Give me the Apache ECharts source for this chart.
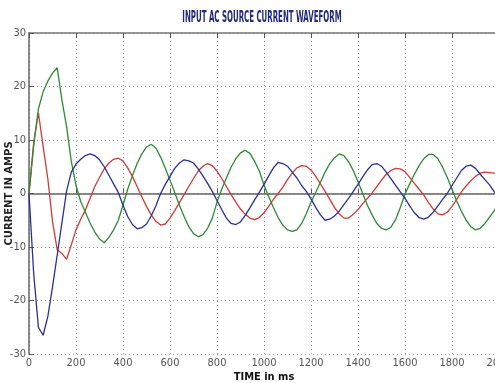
<!DOCTYPE html>
<html>
<head>
<meta charset="utf-8">
<script src="https://cdn.jsdelivr.net/npm/echarts@6/dist/echarts.min.js"></script>
<style>
  html, body { margin: 0; padding: 0; background: #fff; }
  #chart { width: 495px; height: 383px; }
</style>
</head>
<body>
<div id="chart"></div>
<script>
  // time axis (ms), sampled every 20 ms
  var timeMs = [0, 20, 40, 60, 80, 100, 120, 140, 160, 180, 200, 220, 240, 260, 280, 300, 320, 340, 360, 380,
    400, 420, 440, 460, 480, 500, 520, 540, 560, 580, 600, 620, 640, 660, 680, 700, 720, 740, 760, 780,
    800, 820, 840, 860, 880, 900, 920, 940, 960, 980, 1000, 1020, 1040, 1060, 1080, 1100, 1120, 1140, 1160, 1180,
    1200, 1220, 1240, 1260, 1280, 1300, 1320, 1340, 1360, 1380, 1400, 1420, 1440, 1460, 1480, 1500, 1520, 1540, 1560, 1580,
    1600, 1620, 1640, 1660, 1680, 1700, 1720, 1740, 1760, 1780, 1800, 1820, 1840, 1860, 1880, 1900, 1920, 1940, 1960, 1980, 2000];

  // phase currents (A)
  var redPhase = [0, 9.5, 15.1, 8.8, 2.8, -5.2, -10.5, -11.2, -12.3, -9.6, -6.8, -4.8, -3.1, -0.9, 1.3, 3.0, 4.6, 5.7, 6.4, 6.6,
    6.1, 4.8, 3.2, 1.3, -0.6, -2.4, -4.0, -5.2, -5.9, -5.7, -4.6, -3.2, -1.7, -0.2, 1.3, 2.8, 4.2, 5.1, 5.6, 5.2,
    4.2, 2.8, 1.3, -0.2, -1.6, -2.9, -3.9, -4.6, -4.9, -4.5, -3.6, -2.4, -1.1, 0, 1.2, 2.6, 3.8, 4.8, 5.2, 5.1,
    4.4, 3.2, 1.8, 0.4, -1.1, -2.6, -3.8, -4.6, -4.6, -3.9, -3.0, -1.9, -0.9, 0.1, 1.3, 2.5, 3.6, 4.3, 4.7, 4.6,
    4.1, 3.0, 1.9, 0.8, -0.3, -1.7, -2.9, -3.8, -4.0, -3.5, -2.4, -1.1, 0.3, 1.4, 2.4, 3.2, 3.8, 4.0, 3.9, 3.8, 3.7];

  var greenPhase = [0, 9, 15.8, 19, 21, 22.5, 23.5, 17.5, 12.5, 6, 1.5, -1.5, -3.5, -5.5, -7.2, -8.5, -9.2, -8.2, -6.8, -5,
    -2.2, 0.8, 3.3, 5.6, 7.4, 8.7, 9.2, 8.5, 6.8, 4.7, 2.5, 0.2, -2.2, -4.3, -6.2, -7.5, -8.1, -7.7, -6.5, -4.6,
    -1.6, 0.8, 2.9, 4.9, 6.5, 7.6, 8.1, 7.5, 6, 4.2, 1.6, -0.6, -2.6, -4.5, -5.9, -6.8, -7.1, -6.8, -5.6, -3.8,
    -1.6, 0.2, 2.1, 4.0, 5.6, 6.7, 7.4, 7.1, 5.9, 4.3, 2.2, 0, -2.2, -4.0, -5.6, -6.5, -6.8, -6.3, -4.9, -2.6,
    -0.1, 1.8, 3.6, 5.2, 6.5, 7.3, 7.3, 6.5, 4.9, 3.0, 0.8, -1.4, -3.3, -5, -6.2, -6.8, -6.5, -5.6, -4.4, -3.2, -1.8];

  var bluePhase = [0, -15, -25, -26.5, -23, -17.5, -11.5, -5.5, 0.5, 4, 5.5, 6.4, 7.1, 7.4, 7.1, 6.3, 5, 3.4, 1.8, 0.2,
    -2.2, -4.3, -5.8, -6.6, -6.4, -5.7, -4.2, -2.3, 0, 1.7, 3.2, 4.7, 5.7, 6.3, 6.1, 5.7, 4.6, 3.3, 1.9, 0.4,
    -1.3, -3, -4.6, -5.6, -5.8, -5.3, -4.1, -2.7, -1.2, 0.2, 1.7, 3.3, 4.8, 5.8, 5.6, 5.1, 4.0, 2.9, 1.5, 0.4,
    -1, -2.6, -4.0, -5, -4.8, -4.2, -3.3, -2.1, -0.9, 0.4, 1.7, 3.1, 4.4, 5.4, 5.6, 5.1, 4.0, 2.8, 1.5, 0.3,
    -0.9, -2.3, -3.6, -4.5, -4.8, -4.4, -3.5, -2.3, -1.1, 0, 1.5, 2.9, 4.3, 5.1, 5.3, 4.7, 3.6, 2.6, 1.6, 0.3, -0.6];

  var chart = echarts.init(document.getElementById('chart'));

  function pairs(values) {
    return timeMs.map(function (t, i) { return [t, values[i]]; });
  }

  var labelFont = '"Liberation Sans Narrow", "DejaVu Sans Condensed", sans-serif';

  chart.setOption({
    animation: false,
    backgroundColor: '#fff',
    graphic: [{
      type: 'text',
      x: 262,
      y: 18,
      scaleX: 0.52,
      style: {
        text: 'INPUT AC SOURCE CURRENT WAVEFORM',
        fill: '#22287a',
        font: 'bold 15px "Liberation Sans Narrow", "DejaVu Sans Condensed", sans-serif',
        align: 'center',
        verticalAlign: 'middle'
      }
    }],
    grid: {
      left: 29,
      right: -4,
      top: 33,
      bottom: 29,
      outerBoundsMode: 'none'
    },
    xAxis: [{
      type: 'value',
      min: 0,
      max: 2000,
      interval: 200,
      name: 'TIME in ms',
      nameLocation: 'middle',
      nameGap: 18,
      nameMoveOverlap: false,
      nameTextStyle: { color: '#111', fontWeight: 'bold', fontSize: 11, fontFamily: labelFont },
      axisLine: { lineStyle: { color: '#666', width: 1.5 } },
      axisTick: { inside: true, length: 5, lineStyle: { color: '#555' } },
      axisLabel: {
        color: '#555', fontSize: 11, margin: 4, fontFamily: labelFont,
        formatter: function (v) { return String(v); }
      },
      splitLine: { show: true, lineStyle: { color: '#999', type: [1, 3] } }
    }, {
      type: 'value',
      position: 'top',
      min: 0,
      max: 2000,
      interval: 200,
      axisLine: { show: true, lineStyle: { color: '#777', width: 1.5 } },
      axisTick: { show: true, inside: true, length: 5, lineStyle: { color: '#555' } },
      axisLabel: { show: false },
      splitLine: { show: false }
    }],
    yAxis: {
      type: 'value',
      min: -30,
      max: 30,
      interval: 10,
      name: 'CURRENT IN AMPS',
      nameLocation: 'middle',
      nameGap: 15,
      nameMoveOverlap: false,
      nameTextStyle: { color: '#222', fontWeight: 'bold', fontSize: 10, fontFamily: '"DejaVu Sans", sans-serif' },
      axisLine: { show: true, lineStyle: { color: '#666', width: 1.5 } },
      axisTick: { show: true, inside: true, length: 5, lineStyle: { color: '#555' } },
      axisLabel: { color: '#555', fontSize: 11, margin: 3, fontFamily: labelFont },
      splitLine: { show: true, lineStyle: { color: '#999', type: [1, 3] } }
    },
    series: [{
      name: 'Phase R',
      type: 'line',
      showSymbol: false,
      data: pairs(redPhase),
      lineStyle: { color: '#d13a36', width: 1.3 }
    }, {
      name: 'Phase Y',
      type: 'line',
      showSymbol: false,
      data: pairs(greenPhase),
      lineStyle: { color: '#2f8a35', width: 1.3 }
    }, {
      name: 'Phase B',
      type: 'line',
      showSymbol: false,
      data: pairs(bluePhase),
      lineStyle: { color: '#2b2f98', width: 1.3 }
    }]
  });
</script>
</body>
</html>
